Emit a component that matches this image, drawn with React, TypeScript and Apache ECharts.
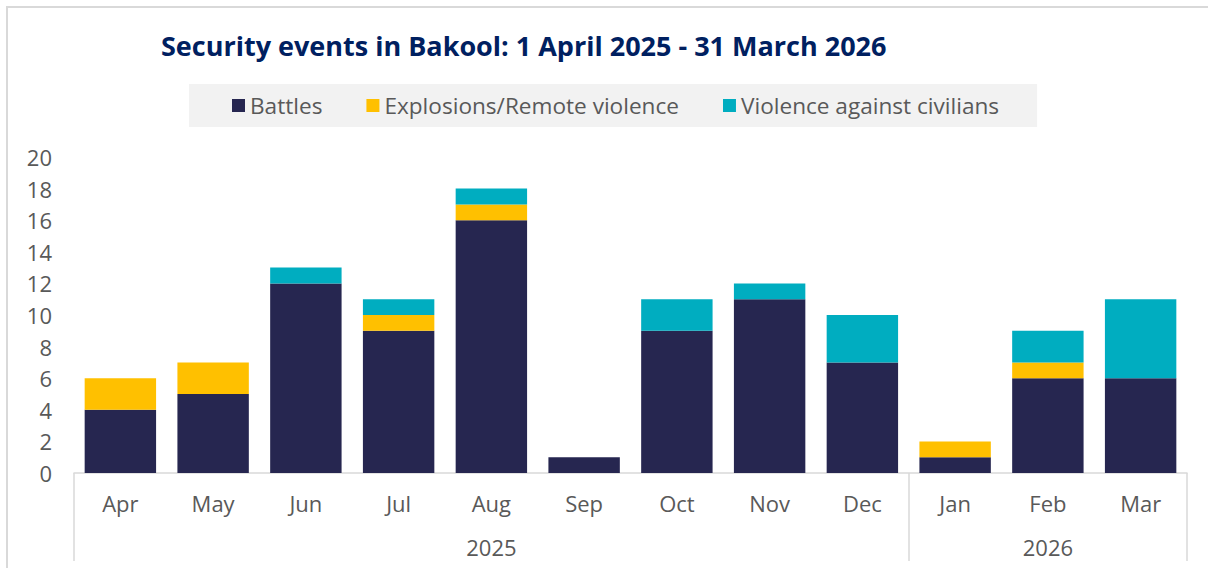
import React, { useEffect, useRef } from "react";
import * as echarts from "echarts";

const months = ["Apr", "May", "Jun", "Jul", "Aug", "Sep", "Oct", "Nov", "Dec", "Jan", "Feb", "Mar"];
const yearLabels: Record<number, string> = { 4: "2025", 10: "2026" };
const yearBoundaries = [0, 9];
const battles = [4, 5, 12, 9, 16, 1, 9, 11, 7, 1, 6, 6];
const explosions = [2, 2, 0, 1, 1, 0, 0, 0, 0, 1, 1, 0];
const violence = [0, 0, 1, 1, 1, 0, 2, 1, 3, 0, 2, 5];

const FONT = "Open Sans";
const GRAY = "#595959";
const FS = 22;

export default function App() {
  const ref = useRef<HTMLDivElement>(null);
  useEffect(() => {
    if (!ref.current) return;
    const chart = echarts.init(ref.current, undefined, { renderer: "svg" });
    chart.setOption({
      animation: false,
      backgroundColor: "#ffffff",
      textStyle: { fontFamily: FONT },
      title: {
        text: "Security events in Bakool: 1 April 2025 - 31 March 2026",
        left: 161,
        top: 32,
        padding: 0,
        textStyle: { fontFamily: FONT, fontSize: 27, fontWeight: "bold", color: "#002060" },
      },
      legend: {
        left: 189,
        top: 84,
        padding: [10, 38, 10, 43],
        backgroundColor: "#f2f2f2",
        itemWidth: 13,
        itemHeight: 13,
        itemGap: 44,
        icon: "rect",
        textStyle: { fontFamily: FONT, fontSize: 22.6, color: GRAY },
        data: ["Battles", "Explosions/Remote violence", "Violence against civilians"],
      },
      graphic: [
        {
          type: "rect",
          shape: { x: 7, y: 7, width: 1220, height: 580 },
          style: { fill: "none", stroke: "#d9d9d9", lineWidth: 2 },
          silent: true,
        },
      ],
      grid: { left: 74, right: 21, top: 157, bottom: 95, containLabel: false },
      yAxis: {
        type: "value",
        min: 0,
        max: 20,
        interval: 2,
        axisLine: { show: false },
        axisTick: { show: false },
        splitLine: { show: false },
        axisLabel: { fontFamily: FONT, fontSize: FS, color: GRAY, margin: 22 },
      },
      xAxis: [
        {
          type: "category",
          data: months,
          axisLine: { show: true, lineStyle: { color: "#d9d9d9", width: 1.5 } },
          axisTick: { show: false },
          axisLabel: { fontFamily: FONT, fontSize: FS, color: GRAY, margin: 19, interval: 0 },
        },
        {
          type: "category",
          data: months,
          position: "bottom",
          axisLine: { show: false },
          axisTick: {
            show: true,
            length: 88,
            interval: (i: number) => yearBoundaries.includes(i),
            lineStyle: { color: "#d9d9d9", width: 1.5 },
          },
          axisLabel: {
            interval: 0,
            margin: 63,
            fontFamily: FONT,
            fontSize: FS,
            color: GRAY,
            formatter: (_v: string, i: number) => yearLabels[i] || "",
          },
        },
      ],
      series: [
        { name: "Battles", type: "bar", stack: "t", data: battles, barWidth: "77%", itemStyle: { color: "#262650" } },
        { name: "Explosions/Remote violence", type: "bar", stack: "t", data: explosions, itemStyle: { color: "#ffc000" } },
        { name: "Violence against civilians", type: "bar", stack: "t", data: violence, itemStyle: { color: "#00adc0" } },
      ],
    });
    return () => chart.dispose();
  }, []);
  return <div ref={ref} style={{ position: "fixed", left: 0, top: 0, width: 1208, height: 568 }} />;
}
